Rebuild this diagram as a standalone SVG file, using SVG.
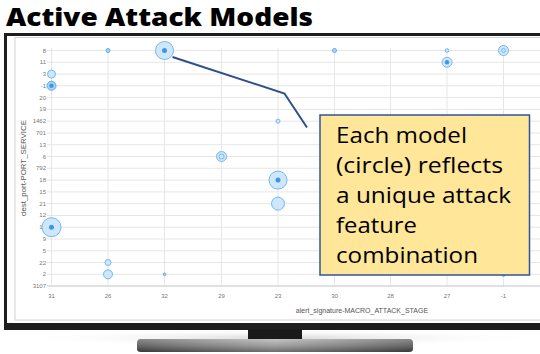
<svg xmlns="http://www.w3.org/2000/svg" width="540" height="354" viewBox="0 0 540 354">
<style>
.title{font-family:"Open Sans","DejaVu Sans",sans-serif;font-weight:800;font-size:24.5px;fill:#000}
.tick{font-family:"Liberation Sans",Arial,sans-serif;font-size:6px;fill:#777}
.axt{font-family:"Liberation Sans",Arial,sans-serif;font-size:7px;fill:#555}
.grid{stroke:#e6e6e6;stroke-width:1}
.b{fill:#cfe7fb;stroke:#72b9f0;stroke-width:1}
.bs{fill:#a9d4f7;stroke:#5eaceb;stroke-width:1}
.dot{fill:#3a98e6}
.box{fill:#ffe699;stroke:#2f5597;stroke-width:1.5}
.call{font-family:"Open Sans",Lato,sans-serif;font-size:22px;fill:#000}
</style>
<defs>
<linearGradient id="base" x1="0" y1="0" x2="0" y2="1">
<stop offset="0" stop-color="#b5b5b5"/>
<stop offset="0.5" stop-color="#8a8a8a"/>
<stop offset="1" stop-color="#4a4a4a"/>
</linearGradient>
<linearGradient id="baseh" x1="0" y1="0" x2="1" y2="0">
<stop offset="0" stop-color="#000" stop-opacity="0.25"/>
<stop offset="0.5" stop-color="#fff" stop-opacity="0.2"/>
<stop offset="1" stop-color="#000" stop-opacity="0.25"/>
</linearGradient>
<radialGradient id="shadow" cx="0.5" cy="0.5" r="0.5">
<stop offset="0" stop-color="#d8d8d8"/>
<stop offset="1" stop-color="#fff" stop-opacity="0"/>
</radialGradient>
</defs>
<rect width="540" height="354" fill="#fff"/>
<text class="title" x="6" y="26" textLength="307" lengthAdjust="spacingAndGlyphs">Active Attack Models</text>

<g id="monitor">
<ellipse cx="280" cy="338" rx="270" ry="9" fill="url(#shadow)"/>
<rect x="4" y="33" width="540" height="297" fill="#1e1e1e"/>
<rect x="7" y="36" width="540" height="287" fill="#fff"/>
<rect x="15" y="37.5" width="540" height="282.5" fill="none" stroke="#d4d4d4" stroke-width="1"/>
<rect x="248" y="329" width="54" height="11" fill="#1a1a1a"/>
<path d="M141,339 L409,339 Q413,339 413,343 L413,349 Q413,352 409,352 L141,352 Q137,352 137,349 L137,343 Q137,339 141,339 Z" fill="url(#base)"/>
<path d="M141,339 L409,339 Q413,339 413,343 L413,349 Q413,352 409,352 L141,352 Q137,352 137,349 L137,343 Q137,339 141,339 Z" fill="url(#baseh)"/>
</g>

<g id="grid">
<g class="grid">
<line x1="47" y1="50.5" x2="540" y2="50.5"/>
<line x1="47" y1="62.3" x2="540" y2="62.3"/>
<line x1="47" y1="74.1" x2="540" y2="74.1"/>
<line x1="47" y1="85.8" x2="540" y2="85.8"/>
<line x1="47" y1="97.6" x2="540" y2="97.6"/>
<line x1="47" y1="109.4" x2="540" y2="109.4"/>
<line x1="47" y1="121.2" x2="540" y2="121.2"/>
<line x1="47" y1="133" x2="540" y2="133"/>
<line x1="47" y1="144.7" x2="540" y2="144.7"/>
<line x1="47" y1="156.5" x2="540" y2="156.5"/>
<line x1="47" y1="168.3" x2="540" y2="168.3"/>
<line x1="47" y1="180.1" x2="540" y2="180.1"/>
<line x1="47" y1="191.9" x2="540" y2="191.9"/>
<line x1="47" y1="203.6" x2="540" y2="203.6"/>
<line x1="47" y1="215.4" x2="540" y2="215.4"/>
<line x1="47" y1="227.2" x2="540" y2="227.2"/>
<line x1="47" y1="239" x2="540" y2="239"/>
<line x1="47" y1="250.8" x2="540" y2="250.8"/>
<line x1="47" y1="262.5" x2="540" y2="262.5"/>
<line x1="47" y1="274.3" x2="540" y2="274.3"/>
<line x1="51.5" y1="48" x2="51.5" y2="286"/>
<line x1="108" y1="48" x2="108" y2="286"/>
<line x1="164.5" y1="48" x2="164.5" y2="286"/>
<line x1="221.5" y1="48" x2="221.5" y2="286"/>
<line x1="278" y1="48" x2="278" y2="286"/>
<line x1="334.5" y1="48" x2="334.5" y2="286"/>
<line x1="390.5" y1="48" x2="390.5" y2="286"/>
<line x1="447" y1="48" x2="447" y2="286"/>
<line x1="503.5" y1="48" x2="503.5" y2="286"/>
</g>
<line x1="47" y1="286.1" x2="540" y2="286.1" stroke="#d6d6d6" stroke-width="1.5"/>
</g>

<g id="y-axis">
<g class="tick" text-anchor="end">
<text x="46" y="52.5">8</text>
<text x="46" y="64.3">11</text>
<text x="46" y="76.1">3</text>
<text x="46" y="87.8">-1</text>
<text x="46" y="99.6">20</text>
<text x="46" y="111.4">19</text>
<text x="46" y="123.2">1462</text>
<text x="46" y="135">701</text>
<text x="46" y="146.7">13</text>
<text x="46" y="158.5">6</text>
<text x="46" y="170.3">792</text>
<text x="46" y="182.1">18</text>
<text x="46" y="193.9">15</text>
<text x="46" y="205.6">21</text>
<text x="46" y="217.4">12</text>
<text x="46" y="229.2">10</text>
<text x="46" y="241">9</text>
<text x="46" y="252.8">5</text>
<text x="46" y="264.5">22</text>
<text x="46" y="276.3">2</text>
<text x="46" y="288.1">3107</text>
</g>
<text class="axt" transform="translate(26,168) rotate(-90)" text-anchor="middle" textLength="96" lengthAdjust="spacingAndGlyphs">dest_port-PORT_SERVICE</text>
</g>

<g id="x-axis">
<g class="tick" text-anchor="middle">
<text x="51.5" y="298">31</text>
<text x="108" y="298">26</text>
<text x="164.5" y="298">32</text>
<text x="221.5" y="298">29</text>
<text x="278" y="298">23</text>
<text x="334.5" y="298">30</text>
<text x="390.5" y="298">28</text>
<text x="447" y="298">27</text>
<text x="503.5" y="298">-1</text>
</g>
<text class="axt" x="362" y="313" text-anchor="middle">alert_signature-MACRO_ATTACK_STAGE</text>
</g>

<g id="bubbles">
<circle class="bs" cx="108" cy="50.5" r="2"/>
<circle class="b" cx="164.5" cy="50.5" r="9"/><circle class="dot" cx="164.5" cy="50.5" r="2.5"/>
<circle class="bs" cx="334.5" cy="50.5" r="2"/>
<circle class="b" cx="447" cy="50.5" r="1.8"/>
<circle class="b" cx="447" cy="62.3" r="5"/><circle class="dot" cx="447" cy="62.3" r="2.2"/>
<circle class="b" cx="503.5" cy="50.5" r="5"/><circle class="b" cx="503.5" cy="50.5" r="2"/>
<circle class="b" cx="51.5" cy="74.1" r="4"/>
<circle class="bs" cx="51.5" cy="85.8" r="4.5"/><circle class="dot" cx="51.5" cy="85.8" r="2.2"/>
<circle class="b" cx="278" cy="121.2" r="2"/>
<circle class="b" cx="221.5" cy="156.5" r="5"/><circle class="b" cx="221.5" cy="156.5" r="2.5"/>
<circle class="b" cx="278" cy="180.1" r="9"/><circle class="dot" cx="278" cy="180.1" r="2.5"/>
<circle class="b" cx="278" cy="203.6" r="6.5"/>
<circle class="b" cx="51.5" cy="227.2" r="9.5"/><circle class="dot" cx="51.5" cy="227.2" r="2.5"/>
<circle class="b" cx="108" cy="262.5" r="3"/>
<circle class="b" cx="108" cy="274.3" r="4.5"/>
<circle class="bs" cx="164.5" cy="274.3" r="1.3"/>
<circle class="bs" cx="503.5" cy="274.3" r="2"/>
</g>

<g id="connectors">
<polyline points="172.5,57 284.5,93.5 307,127.5" fill="none" stroke="#2f4f86" stroke-width="2"/>
</g>

<g id="callout">
<rect class="box" x="320" y="115" width="209.5" height="160"/>
<text class="call" x="336" y="142.5" textLength="131" lengthAdjust="spacingAndGlyphs">Each model</text>
<text class="call" x="336" y="172.5" textLength="167" lengthAdjust="spacingAndGlyphs">(circle) reflects</text>
<text class="call" x="336" y="202.5" textLength="175" lengthAdjust="spacingAndGlyphs">a unique attack</text>
<text class="call" x="336" y="232.5" textLength="81" lengthAdjust="spacingAndGlyphs">feature</text>
<text class="call" x="336" y="262.5" textLength="142" lengthAdjust="spacingAndGlyphs">combination</text>
</g>
</svg>
